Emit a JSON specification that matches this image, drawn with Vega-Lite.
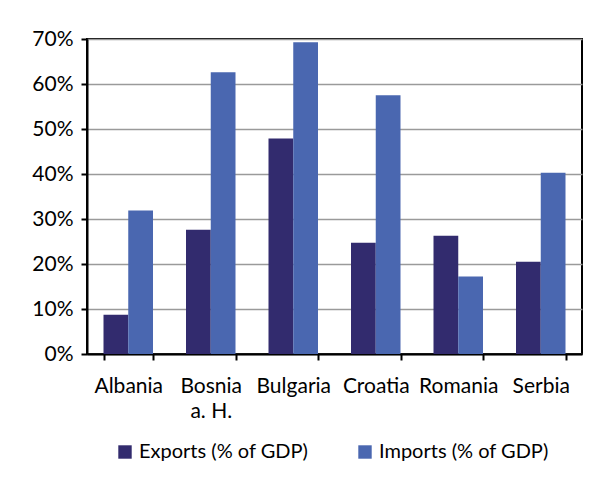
{
  "$schema": "https://vega.github.io/schema/vega-lite/v6.json",
  "autosize": {"type": "none"},
  "padding": {"left": 87, "top": 39, "right": 24, "bottom": 125},
  "width": 495,
  "height": 315,
  "background": "white",
  "config": {
    "font": "Lato",
    "view": {"stroke": "black", "strokeWidth": 2},
    "axis": {"labelFont": "Lato", "labelFontSize": 21, "labelColor": "black"}
  },
  "data": {
    "values": [
      {"country": "Albania", "series": "Exports (% of GDP)", "value": 0.087},
      {"country": "Albania", "series": "Imports (% of GDP)", "value": 0.319},
      {"country": "Bosnia a. H.", "series": "Exports (% of GDP)", "value": 0.276},
      {"country": "Bosnia a. H.", "series": "Imports (% of GDP)", "value": 0.626},
      {"country": "Bulgaria", "series": "Exports (% of GDP)", "value": 0.479},
      {"country": "Bulgaria", "series": "Imports (% of GDP)", "value": 0.693},
      {"country": "Croatia", "series": "Exports (% of GDP)", "value": 0.247},
      {"country": "Croatia", "series": "Imports (% of GDP)", "value": 0.575},
      {"country": "Romania", "series": "Exports (% of GDP)", "value": 0.263},
      {"country": "Romania", "series": "Imports (% of GDP)", "value": 0.172},
      {"country": "Serbia", "series": "Exports (% of GDP)", "value": 0.205},
      {"country": "Serbia", "series": "Imports (% of GDP)", "value": 0.403}
    ]
  },
  "mark": {"type": "bar"},
  "encoding": {
    "x": {
      "field": "country", "type": "nominal", "sort": null,
      "scale": {"paddingInner": 0.4, "paddingOuter": 0.2},
      "axis": {
        "title": null, "labelAngle": 0, "tickBand": "extent",
        "domainColor": "black", "domainWidth": 2, "tickColor": "black", "tickWidth": 2, "tickSize": 6,
        "labelPadding": 15, "labelLineHeight": 25,
        "labelExpr": "datum.label == 'Bosnia a. H.' ? ['Bosnia', 'a. H.'] : datum.label"
      }
    },
    "xOffset": {"field": "series", "type": "nominal", "sort": null},
    "y": {
      "field": "value", "type": "quantitative",
      "scale": {"domain": [0, 0.7], "nice": false},
      "axis": {
        "title": null, "format": ".0%", "values": [0, 0.1, 0.2, 0.3, 0.4, 0.5, 0.6, 0.7],
        "domainColor": "black", "domainWidth": 2, "tickColor": "black", "tickWidth": 2, "tickSize": 6,
        "gridColor": "#9a9a9a", "gridWidth": 1.5, "labelPadding": 8
      }
    },
    "color": {
      "field": "series", "type": "nominal", "sort": null,
      "scale": {"range": ["#322b6e", "#4a67b0"]},
      "legend": {
        "title": null, "orient": "none", "direction": "horizontal",
        "legendX": 28, "legendY": 403,
        "symbolType": "square", "symbolSize": 180, "symbolStrokeWidth": 0, "symbolOpacity": 1,
        "labelFont": "Lato", "labelFontSize": 20, "labelColor": "black", "labelLimit": 400,
        "columnPadding": 46, "labelOffset": 4
      }
    }
  }
}
